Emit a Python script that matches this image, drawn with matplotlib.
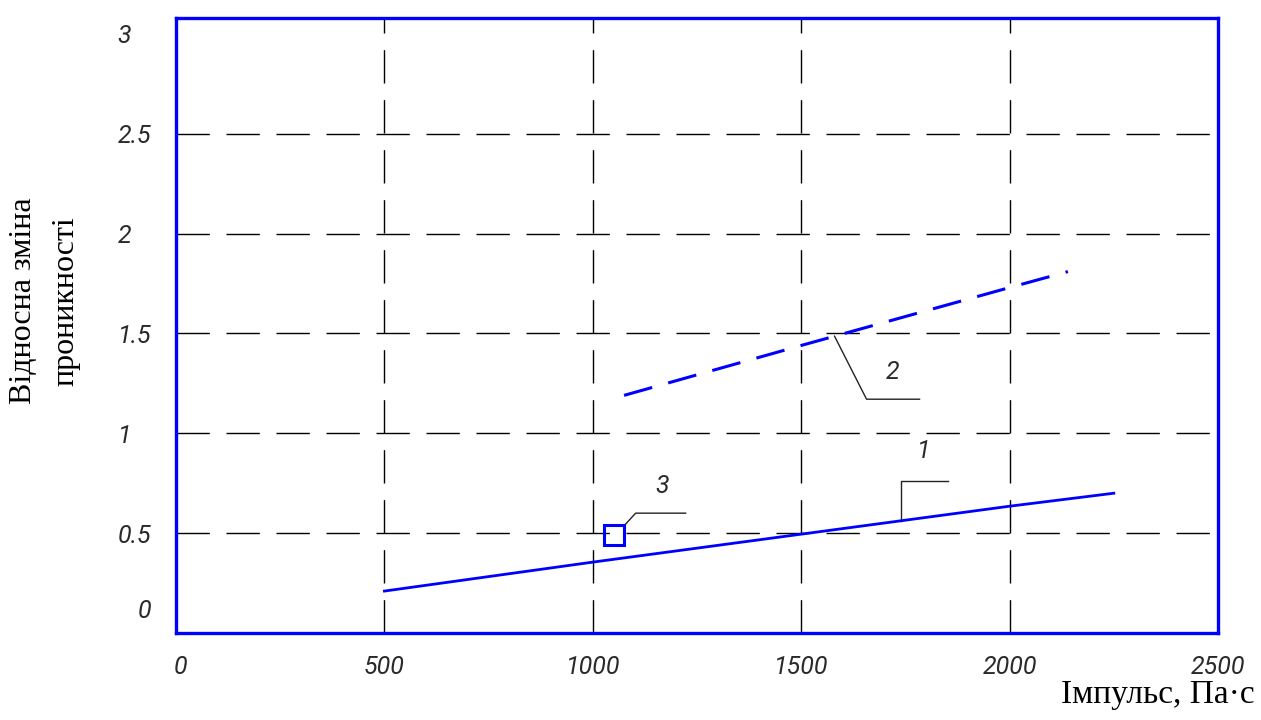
import numpy as np
import matplotlib.pyplot as plt
import matplotlib.transforms as mtransforms

plt.rcParams['lines.scale_dashes'] = False

# Дані
x_ticks = [0, 500, 1000, 1500, 2000, 2500]
y_ticks = [0, 0.5, 1, 1.5, 2, 2.5, 3]
y_tick_labels = ['0', '0.5', '1', '1.5', '2', '2.5', '3']

# Крива 1 (суцільна)
x1 = [500, 1000, 1500, 2000, 2250]
y1 = [0.21, 0.355, 0.495, 0.635, 0.70]

# Крива 2 (штрихова)
x2 = [1075, 1500, 2000, 2140]
y2 = [1.19, 1.44, 1.73, 1.81]

# Точка 3 (експеримент)
x3 = [1050]
y3 = [0.49]

blue = '#0000ff'
txt_color = '#2a2a2a'
num_font = dict(family=['Roboto', 'DejaVu Sans'], style='italic', weight='normal',
                size=18, color=txt_color)

fig = plt.figure(figsize=(12.61, 7.2), dpi=100)
ax = fig.add_axes([176 / 1261, 1 - 633 / 720, (1218 - 176) / 1261, (633 - 18) / 720])

xmax, ymax = 2500, 3.08
ax.set_xlim(0, xmax)
ax.set_ylim(0, ymax)

# Сітка
for xv in x_ticks[1:-1]:
    ax.axvline(xv, color='black', lw=1.0, dashes=(24, 12), zorder=1)
for yv in y_ticks[1:-1]:
    ax.axhline(yv, color='black', lw=1.0, dashes=(24, 12), zorder=1)

# Криві
ax.plot(x1, y1, color=blue, lw=2.0, zorder=3)
ax.plot(x2, y2, color=blue, lw=2.2, dashes=(21, 12), zorder=3)
ax.plot(x3, y3, linestyle='none', marker='s', markersize=15, markerfacecolor='none',
        markeredgecolor=blue, markeredgewidth=2.2, zorder=4)

for s in ax.spines.values():
    s.set_color(blue)
    s.set_linewidth(2.4)

ax.set_xticks(x_ticks)
ax.set_xticklabels([str(v) for v in x_ticks], fontdict=num_font)
ax.set_yticks(y_ticks)
ax.set_yticklabels(y_tick_labels, fontdict=num_font)
ax.tick_params(axis='both', length=0)
ax.tick_params(axis='x', pad=16)
ax.tick_params(axis='y', pad=42)
for lab in ax.get_yticklabels():
    lab.set_horizontalalignment('left')

# зсув підпису "0" як на оригіналі
ylabs = ax.get_yticklabels()
ylabs[0].set_transform(ylabs[0].get_transform() + mtransforms.ScaledTranslation(20 / 100, 25 / 100, fig.dpi_scale_trans))
xlabs = ax.get_xticklabels()
xlabs[0].set_transform(xlabs[0].get_transform() + mtransforms.ScaledTranslation(5 / 100, 0, fig.dpi_scale_trans))

# Виноски з номерами кривих (зміщення в пікселях)
kx = xmax / (1218 - 176)
ky = ymax / (633 - 18)


def leader(x0, y0, pts, label, lab_off):
    xs = [x0 + dx * kx for dx, dy in pts]
    ys = [y0 + dy * ky for dx, dy in pts]
    ax.plot(xs, ys, color='#222222', lw=1.0, zorder=2)
    ax.text(x0 + lab_off[0] * kx, y0 + lab_off[1] * ky, label,
            ha='center', va='center', fontdict=num_font, zorder=5)


xa1 = 1740
leader(xa1, np.interp(xa1, x1, y1), [(0, 0), (0, 40), (47, 40)], '1', (23, 70))
xa2 = 1580
leader(xa2, np.interp(xa2, x2, y2), [(0, 0), (32, -63), (85, -63)], '2', (58, -36))
leader(x3[0], y3[0], [(11, 10), (22, 22), (72, 22)], '3', (49, 49))

ax.set_ylabel('Відносна зміна\nпроникності', family='Liberation Serif', fontsize=23,
              color='black', linespacing=1.6)
ax.yaxis.set_label_coords(-(176 - 80) / (1218 - 176), 0.54)

fig.text(1255 / 1261, 1 - 695 / 720, 'Імпульс, Па·с', family='Liberation Serif', fontsize=24,
         ha='right', va='center', color='black')

fig.savefig('out.png', dpi=100)
